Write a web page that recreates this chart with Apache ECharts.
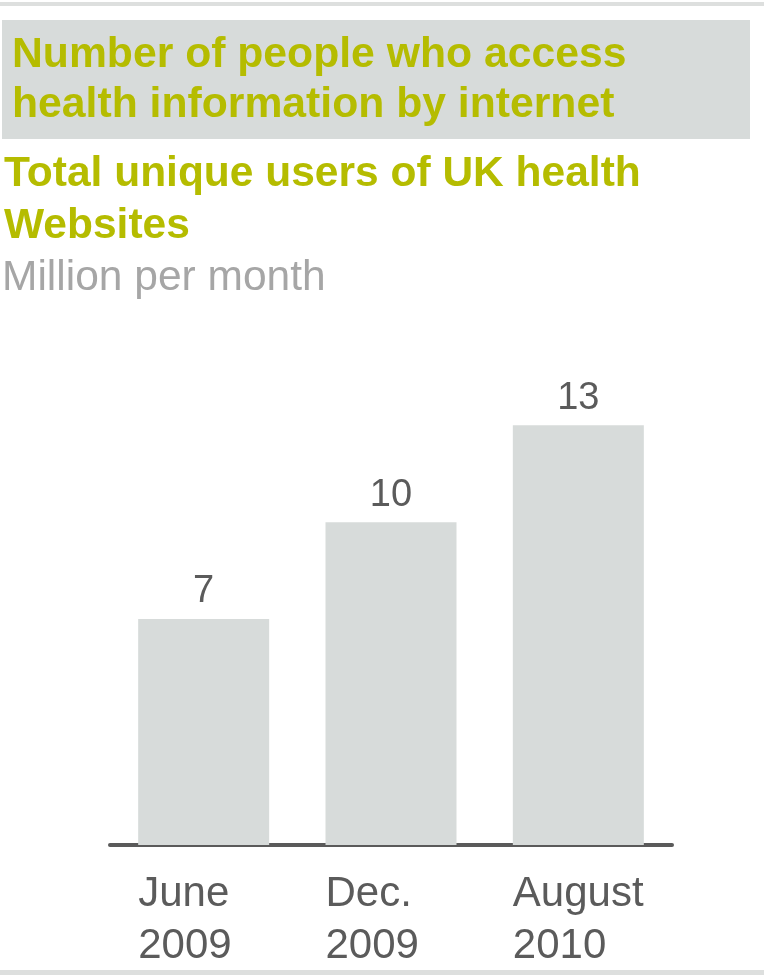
<!DOCTYPE html>
<html>
<head>
<meta charset="utf-8">
<script src="https://cdn.jsdelivr.net/npm/echarts@6/dist/echarts.min.js"></script>
<style>
  html, body { margin: 0; padding: 0; background: #ffffff; }
  #chart { width: 764px; height: 975px; }
</style>
</head>
<body>
<div id="chart"></div>
<script>
// Monthly unique users of UK health websites (millions)
const categories = ['June\n2009', 'Dec.\n2009', 'August\n2010'];
const users = [7, 10, 13];

const headline = ['Number of people who access', 'health information by internet'];
const subtitle = ['Total unique users of UK health', 'Websites'];
const unitNote = 'Million per month';

const OLIVE = '#b5bc00';
const PANEL = '#d7dbda';
const INK = '#5b5b5b';
const FONT = '"Liberation Sans", Arial, Helvetica, sans-serif';

const chart = echarts.init(document.getElementById('chart'), null, { renderer: 'canvas' });

function textLine(str, x, y, size, weight, color) {
  return {
    type: 'text',
    x: x, y: y,
    style: {
      text: str,
      fill: color,
      font: weight + ' ' + size + 'px ' + FONT,
      align: 'left',
      verticalAlign: 'top'
    },
    silent: true
  };
}

const graphics = [
  // top and bottom rules
  { type: 'rect', shape: { x: 0, y: 2, width: 764, height: 4 }, style: { fill: '#dddfde' }, silent: true },
  { type: 'rect', shape: { x: 0, y: 970, width: 764, height: 5 }, style: { fill: '#dddfde' }, silent: true },
  // headline panel
  { type: 'rect', shape: { x: 2, y: 20, width: 748, height: 119 }, style: { fill: PANEL }, silent: true },
  textLine(headline[0], 12, 34, 42.7, 'bold', OLIVE),
  textLine(headline[1], 12, 84, 42.7, 'bold', OLIVE),
  textLine(subtitle[0], 4, 153, 42.5, 'bold', OLIVE),
  textLine(subtitle[1], 4, 205, 42.5, 'bold', OLIVE),
  textLine(unitNote, 2, 257, 42.5, 'normal', '#a6a6a6')
];

const option = {
  animation: false,
  backgroundColor: '#ffffff',
  graphic: graphics,
  grid: { left: 110, right: 92, top: 393, bottom: 130, containLabel: false },
  xAxis: {
    type: 'category',
    data: categories,
    axisLine: { show: true, lineStyle: { color: '#5a5a5a', width: 4 } },
    axisTick: { show: false },
    axisLabel: {
      margin: 23,
      formatter: function (v) {
        return v.split('\n').map(function (s) { return '{t|' + s + '}'; }).join('\n');
      },
      rich: {
        t: {
          width: 131,
          align: 'left',
          fontFamily: FONT,
          fontSize: 42,
          lineHeight: 52,
          color: INK
        }
      }
    }
  },
  yAxis: {
    type: 'value',
    min: 0,
    max: 14,
    show: false,
    splitLine: { show: false }
  },
  series: [{
    type: 'bar',
    data: users,
    barWidth: 131,
    itemStyle: { color: PANEL },
    label: {
      show: true,
      position: 'top',
      distance: 8,
      fontFamily: FONT,
      fontSize: 38,
      color: INK
    },
    z: 1
  }]
};

chart.setOption(option);
</script>
</body>
</html>
